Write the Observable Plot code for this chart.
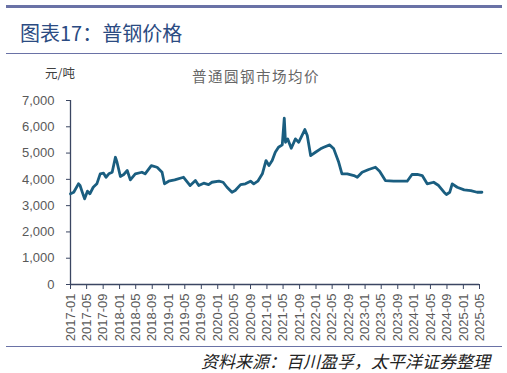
<!DOCTYPE html>
<html><head><meta charset="utf-8">
<script src="https://cdn.jsdelivr.net/npm/d3@7"></script>
<script src="https://cdn.jsdelivr.net/npm/@observablehq/plot@0.6"></script>
<style>
body{margin:0;background:#fff;}
#wrap{position:relative;width:507px;height:373px;overflow:hidden;font-family:"Noto Sans CJK SC",sans-serif;background:#fff;}
.abs{position:absolute;white-space:nowrap;line-height:1;}
.topbar{left:6px;top:5px;width:496px;height:3px;background:#6a72a6;}
.rule1{left:6px;top:53px;width:496px;height:1px;background:#6a72a6;}
.rule2{left:6px;top:346px;width:496px;height:1px;background:#6a72a6;}
.title{left:20px;top:23px;font-size:20px;color:#2b4b82;}
.unit{left:45px;top:67px;font-size:12.5px;color:#404040;}
.sub{left:192px;top:69px;font-size:14.5px;letter-spacing:1.5px;color:#666;}
.src{right:17px;top:352px;font-size:17px;font-style:italic;color:#222;}
#chart{position:absolute;left:0;top:60px;}
</style></head><body>
<div id="wrap">
 <div class="abs topbar"></div>
 <div class="abs title">图表17：普钢价格</div>
 <div class="abs rule1"></div>
 <div class="abs unit">元/吨</div>
 <div class="abs sub">普通圆钢市场均价</div>
 <div id="chart"></div>
 <div class="abs rule2"></div>
 <div class="abs src">资料来源：百川盈孚，太平洋证券整理</div>
</div>
<script>
const dates = ["2017-01-01","2017-01-25","2017-03-01","2017-03-13","2017-04-01","2017-04-16","2017-05-07","2017-05-25","2017-06-19","2017-07-16","2017-08-10","2017-09-04","2017-09-22","2017-10-13","2017-11-07","2017-12-01","2017-12-13","2018-01-07","2018-02-01","2018-02-27","2018-03-22","2018-04-28","2018-06-16","2018-07-10","2018-08-25","2018-10-07","2018-11-13","2018-12-01","2019-01-01","2019-02-15","2019-04-22","2019-06-10","2019-07-19","2019-08-13","2019-09-19","2019-10-25","2019-11-19","2020-01-10","2020-02-10","2020-03-10","2020-04-16","2020-05-10","2020-06-19","2020-07-25","2020-09-01","2020-09-25","2020-10-25","2020-11-28","2020-12-25","2021-01-16","2021-02-09","2021-03-04","2021-03-28","2021-04-25","2021-05-10","2021-05-19","2021-06-04","2021-07-01","2021-08-01","2021-08-25","2021-10-10","2021-10-28","2021-11-22","2021-12-28","2022-02-04","2022-02-28","2022-04-13","2022-05-13","2022-06-19","2022-07-13","2022-08-22","2022-10-10","2022-11-04","2022-12-10","2023-01-28","2023-03-19","2023-04-19","2023-06-01","2023-08-01","2023-10-04","2023-11-10","2023-12-16","2024-01-25","2024-03-01","2024-04-07","2024-05-25","2024-07-01","2024-08-10","2024-08-28","2024-09-22","2024-10-10","2024-11-16","2025-01-07","2025-02-25","2025-04-13","2025-05-19"];
const prices = [3450,3510,3830,3765,3475,3260,3550,3450,3700,3830,4210,4235,4080,4210,4270,4840,4650,4110,4185,4335,3980,4210,4270,4210,4525,4460,4270,3830,3930,3980,4080,3765,3955,3765,3855,3800,3890,3930,3890,3700,3510,3575,3800,3830,3930,3830,3930,4210,4715,4525,4715,5030,5220,5310,6330,5410,5540,5185,5540,5410,5895,5665,4905,5030,5160,5220,5310,5160,4650,4210,4210,4146,4080,4270,4375,4460,4310,3955,3930,3930,3930,4185,4185,4146,3830,3890,3765,3510,3425,3510,3830,3700,3600,3575,3510,3510];
const yTicks = [0,1000,2000,3000,4000,5000,6000,7000];
const xTickStart = "2017-01-01", xTickEnd = "2025-05-01";

const data = dates.map((d,i)=>({date:new Date(d+"T00:00:00Z"), price:prices[i]}));
const x0 = new Date(xTickStart+"T00:00:00Z"), x1 = new Date(xTickEnd+"T00:00:00Z");
const xTicks = d3.utcMonth.every(4).range(x0, new Date(x1.getTime()+86400000));

const axisColor = "#3b4662", textColor = "#595959";
const chart = Plot.plot({
  width: 507, height: 290,
  marginLeft: 70, marginRight: 28, marginTop: 40, marginBottom: 66,
  style: {fontFamily: "'Liberation Sans', Arial, sans-serif", fontSize: "13px", background: "transparent", overflow: "visible"},
  x: {type: "utc", domain: [x0, x1]},
  y: {domain: [0, 7000]},
  marks: [
    Plot.axisY(yTicks, {tickSize: 4, tickPadding: 12, tickFormat: d3.format(","), stroke: axisColor, fill: textColor, fontSize: 13, label: null}),
    Plot.axisX(xTicks, {tickSize: 5, tickPadding: 4, tickRotate: -90, tickFormat: d3.utcFormat("%Y-%m"), stroke: axisColor, fill: textColor, fontSize: 13, label: null}),
    Plot.ruleY([0], {stroke: axisColor, strokeWidth: 1.3}),
    Plot.ruleX([x0], {stroke: axisColor, strokeWidth: 1.3}),
    Plot.line(data, {x: "date", y: "price", stroke: "#1a5e80", strokeWidth: 2.8, curve: "linear"})
  ]
});
document.getElementById("chart").appendChild(chart);
</script>
</body></html>
